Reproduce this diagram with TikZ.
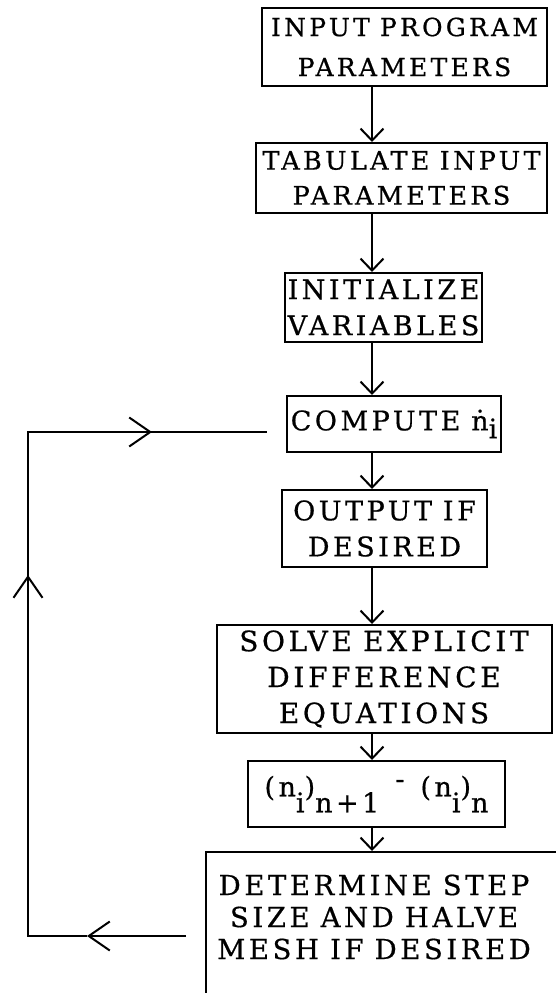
\documentclass[tikz,border=0pt]{standalone}
\usepackage{fontspec}
\setmainfont{DejaVu Serif}
\newfontfamily\boxfont[LetterSpace=13,WordSpace=0.9,FakeBold=0.6]{DejaVu Serif}
\newcommand\lowr[1]{\raisebox{-16pt}{#1}}
\usetikzlibrary{arrows.meta}
\begin{document}
\begin{tikzpicture}[x=1pt,y=-1pt,line width=2pt,
  boxtext/.style={inner sep=0pt,align=center,font=\boxfont\fontsize{27}{36}\selectfont},
  box/.style={boxtext,draw},
  flow/.style={-{Straight Barb[length=12pt,width=23pt]}},
  backarrow/.style={-{Straight Barb[length=21pt,width=29pt]}}]
\useasboundingbox (0,0) rectangle (556,993);
\node[box,minimum width=285pt,minimum height=78pt,font=\boxfont\fontsize{25}{40}\selectfont] (b1) at (404.5,47) {INPUT PROGRAM\\PARAMETERS};
\node[box,minimum width=291pt,minimum height=70pt,font=\boxfont\fontsize{25.5}{35}\selectfont] (b2) at (401.5,178) {TABULATE INPUT\\PARAMETERS};
\node[box,minimum width=197pt,minimum height=69pt] (b3) at (383.5,307.5) {INITIALIZE\\VARIABLES};
\node[box,minimum width=214pt,minimum height=56pt] (b4) at (394,424) {COMPUTE \.{n}\raisebox{-8pt}{i}};
\node[box,minimum width=205pt,minimum height=77pt] (b5) at (384.5,528.5) {OUTPUT IF\\DESIRED};
\node[box,minimum width=335pt,minimum height=108pt,font=\boxfont\fontsize{28}{36}\selectfont] (b6) at (384,679) {SOLVE EXPLICIT\\DIFFERENCE\\EQUATIONS};
\node[box,minimum width=257pt,minimum height=66pt] (b7) at (376.5,794) {(n\lowr{i})\lowr{n+1}\hspace{16pt}\raisebox{8pt}{-}\hspace{16pt}(n\lowr{i})\lowr{n}};
\node[draw,inner sep=0pt,minimum width=364pt,minimum height=170pt] (b8) at (388,937) {};
\node[boxtext,font=\boxfont\fontsize{27.5}{32}\selectfont] (b8t) at (374,917) {DETERMINE STEP\\SIZE AND HALVE\\MESH IF DESIRED};
\coordinate (ax) at (372,0);
\draw[flow] (b1.south -| ax) -- (b2.north -| ax);
\draw[flow] (b2.south -| ax) -- (b3.north -| ax);
\draw[flow] (b3.south -| ax) -- (b4.north -| ax);
\draw[flow] (b4.south -| ax) -- (b5.north -| ax);
\draw[flow] (b5.south -| ax) -- (b6.north -| ax);
\draw[flow] (b6.south -| ax) -- (b7.north -| ax);
\draw[flow] (b7.south -| ax) -- (b8.north -| ax);
\coordinate (lb) at (186,936);
\coordinate (lbm) at (87,936);
\coordinate (lc) at (28,936);
\coordinate (lvm) at (28,575);
\coordinate (lt) at (28,432);
\coordinate (ltm) at (152,432);
\coordinate (le) at (267,432);
\draw (lbm) -- (lc) -- (lt) -- (le);
\draw[backarrow] (lb) -- (lbm);
\draw[backarrow] (lc) -- (lvm);
\draw[backarrow] (lt) -- (ltm);
\end{tikzpicture}
\end{document}
